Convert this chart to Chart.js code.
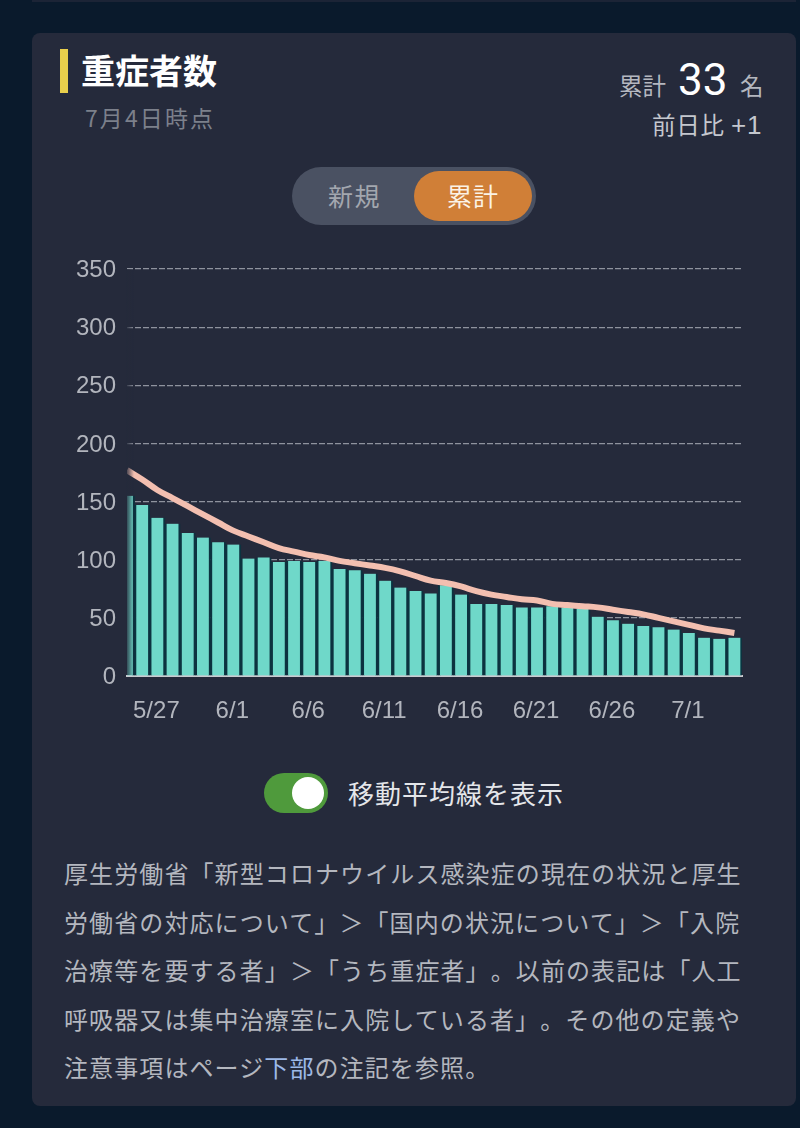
<!DOCTYPE html>
<html lang="ja"><head><meta charset="utf-8">
<script src="https://cdn.jsdelivr.net/npm/chart.js@4"></script>
<style>
html,body{margin:0;padding:0;width:800px;height:1128px;overflow:hidden;background:#0a1a2c;font-family:"Noto Sans CJK JP","Noto Sans",sans-serif}
.a{position:absolute;white-space:nowrap;line-height:1}
#card{position:absolute;left:32px;top:33px;width:764px;height:1073px;background:#252a3b;border-radius:8px}
#chartBox{position:absolute;left:32px;top:240px;width:760px;height:490px}
#note{position:absolute;left:64px;top:849px;width:690px;font-size:24px;line-height:48.5px;letter-spacing:1.1px;color:#b4b7bf;white-space:nowrap;text-spacing-trim:space-all}
#note span{color:#9db9e8}
</style></head><body>
<div class="a" style="left:32px;top:0;width:764px;height:2px;background:#1c2436"></div>
<div id="card"></div>
<div class="a" style="left:60px;top:49px;width:8px;height:44px;background:#e9cf4c"></div>
<div class="a" style="left:81px;top:53px;font-size:34px;font-weight:700;color:#fff">重症者数</div>
<div class="a" style="left:85px;top:106px;font-size:23px;color:#7c808b;letter-spacing:2.1px">7月4日時点</div>
<div class="a" style="left:619px;top:74px;font-size:23.5px;color:#b4b7bf">累計</div>
<div class="a" style="left:678px;top:58px;font-size:44px;color:#fff;font-family:Roboto">33</div>
<div class="a" style="left:740px;top:74px;font-size:23.5px;color:#b4b7bf">名</div>
<div class="a" style="left:652px;top:112px;font-size:23.5px;color:#c4c7ce;letter-spacing:.8px">前日比 <span style="font-family:'Liberation Sans';font-size:26px">+1</span></div>
<div class="a" style="left:292px;top:167px;width:244px;height:58px;border-radius:29px;background:#4a5162"></div>
<div class="a" style="left:414px;top:171px;width:118px;height:50px;border-radius:25px;background:#d07f37"></div>
<div class="a" style="left:328px;top:183px;font-size:25px;color:#a3a7af;letter-spacing:1.5px">新規</div>
<div class="a" style="left:447px;top:183px;font-size:25px;color:#fbf3e6;letter-spacing:1px">累計</div>
<div id="chartBox"><canvas id="c"></canvas></div>
<div class="a" style="left:264px;top:773px;width:64px;height:40px;border-radius:20px;background:#4f9a3c"></div>
<div class="a" style="left:292px;top:777px;width:32px;height:32px;border-radius:16px;background:#fff"></div>
<div class="a" style="left:348px;top:780px;font-size:26px;color:#e4e6ea;letter-spacing:1px">移動平均線を表示</div>
<div id="note">厚生労働省「新型コロナウイルス感染症の現在の状況と厚生<br>労働省の対応について」＞「国内の状況について」＞「入院<br>治療等を要する者」＞「うち重症者」。以前の表記は「人工<br>呼吸器又は集中治療室に入院している者」。その他の定義や<br>注意事項はページ<span>下部</span>の注記を参照。</div>
<script>
const dates = ["5/25","5/26","5/27","5/28","5/29","5/30","5/31","6/1","6/2","6/3","6/4","6/5","6/6","6/7","6/8","6/9","6/10","6/11","6/12","6/13","6/14","6/15","6/16","6/17","6/18","6/19","6/20","6/21","6/22","6/23","6/24","6/25","6/26","6/27","6/28","6/29","6/30","7/1","7/2","7/3","7/4"];
const severe = [155,147,136,131,123,119,115,113,101,102,98,99,98,99,92,91,88,82,76,73,71,78,70,62,62,61,59,59,60,59,58,51,48,45,43,42,40,37,33,32,33];
const movingAvg = [177,169,160,153,146,139,132,125,120,115,110,107,104,102,99,97,95,93,90,86,82,80,77,73,70,68,66,65,62,61,60,59,57,55,53,50,47,44,41,39,37];
const shownDates = ["5/27","6/1","6/6","6/11","6/16","6/21","6/26","7/1"];
const yTicks = [0,50,100,150,200,250,300,350];

const toPoints = arr => arr.map((v,i)=>({x:i,y:v}));
const edgeFade = {
  id:'edgeFade',
  afterDatasetsDraw(ch){
    const {ctx,chartArea:a} = ch;
    const g = ctx.createLinearGradient(a.left-1,0,a.left+7,0);
    g.addColorStop(0,'rgba(37,42,59,.9)');
    g.addColorStop(1,'rgba(37,42,59,0)');
    ctx.save();ctx.fillStyle=g;ctx.fillRect(a.left-1,a.top,8,a.bottom-a.top-1);ctx.restore();
  }
};
new Chart(document.getElementById('c'),{
  type:'bar',
  data:{datasets:[
    {type:'line',data:toPoints(movingAvg),borderColor:'#f3bfb0',borderWidth:6,pointRadius:0,tension:0.4,order:0},
    {type:'bar',data:toPoints(severe),backgroundColor:'#6fd8c9',borderColor:'#0c3340',
     borderWidth:{left:2,right:2,top:0,bottom:0},borderSkipped:false,barPercentage:1,categoryPercentage:1,order:1}
  ]},
  options:{
    responsive:true,maintainAspectRatio:false,animation:false,
    layout:{autoPadding:false,padding:{top:29,right:50,left:0,bottom:0}},
    plugins:{legend:{display:false},tooltip:{enabled:false}},
    scales:{
      x:{type:'linear',min:0,max:40.5,offset:false,
        afterFit(s){s.height=54},
        afterBuildTicks(s){s.ticks=shownDates.map(d=>({value:dates.indexOf(d)}))},
        grid:{display:false,drawTicks:false},
        border:{display:true,color:'#c9cbd0',width:2},
        ticks:{autoSkip:false,maxRotation:0,padding:21,labelOffset:-1,color:'#b2b5bd',font:{size:24,family:'Liberation Sans'},callback:v=>dates[v]}
      },
      y:{min:0,max:350,
        afterFit(s){s.width=95},
        afterBuildTicks(s){s.ticks=yTicks.map(v=>({value:v}))},
        grid:{color:'#8f939e',lineWidth:1.2,drawTicks:false},
        border:{display:false,dash:[6,2]},
        ticks:{padding:11,labelOffset:1.5,color:'#b2b5bd',font:{size:24,family:'Liberation Sans'}}
      }
    }
  },
  plugins:[edgeFade]
});
</script>
</body></html>
